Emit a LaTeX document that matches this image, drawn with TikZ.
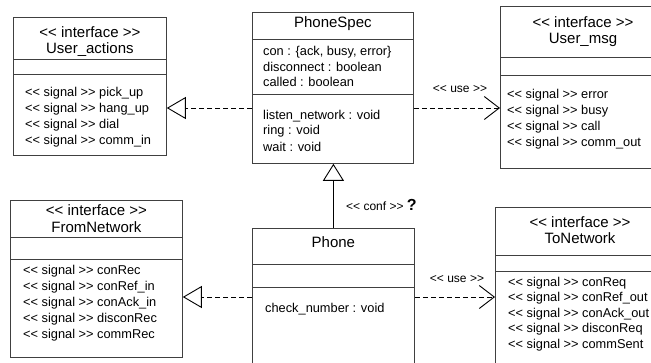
\documentclass[tikz,border=0pt]{standalone}
\usepackage{fontspec}
\setmainfont{Liberation Sans}
\usetikzlibrary{arrows.meta,calc}
\newcommand{\stereo}[1]{<{}< #1 >{}>}

\begin{document}
\begin{tikzpicture}[x=1pt,y=-1pt,
  umlbox/.style={draw=black!75,line width=0.8pt,inner sep=0pt,anchor=north west},
  title/.style={font=\fontsize{15}{18}\selectfont,inner sep=0pt},
  member/.style={font=\fontsize{12.8}{15}\selectfont,inner sep=0pt,anchor=west},
  tag/.style={font=\fontsize{12}{14}\selectfont,inner sep=0pt},
  realize/.style={dash pattern=on 5pt off 3pt,line width=0.9pt,
    -{Triangle[open,length=19pt,width=22pt,line width=0.9pt]}},
  conform/.style={line width=0.9pt,
    -{Triangle[open,length=17pt,width=21pt,line width=0.9pt]}},
  usedep/.style={dash pattern=on 5pt off 3pt,line width=0.9pt,
    -{Straight Barb[length=15pt,width=23pt,line width=0.9pt]}}]
    \useasboundingbox (0,0) rectangle (651,362);

    % boxes
    \node[umlbox,minimum width=153pt,minimum height=138pt] (useractions) at (13,17) {};
    \node[umlbox,minimum width=161pt,minimum height=151pt] (phonespec) at (252,12) {};
    \node[umlbox,minimum width=165pt,minimum height=162pt] (usermsg) at (500,6) {};
    \node[umlbox,minimum width=172pt,minimum height=157pt] (fromnet) at (10,200) {};
    \node[umlbox,minimum width=162pt,minimum height=150pt] (phone) at (252,228) {};
    \node[umlbox,minimum width=170pt,minimum height=170pt] (tonet) at (495,207) {};

    % compartments
    \foreach \bx/\ya/\yb in {useractions/59/74, phonespec/39/94, usermsg/57/75,
                             fromnet/237/259, phone/264/287, tonet/255/271}
      \draw[draw=black!75,line width=0.8pt] (\bx.west |- 0,\ya) -- (\bx.east |- 0,\ya)
                                            (\bx.west |- 0,\yb) -- (\bx.east |- 0,\yb);

    % User_actions
    \node[title] at (useractions.north |- 0,32) {\stereo{interface}};
    \node[title] at (useractions.north |- 0,50) {User\_actions};
    \foreach \sig [count=\i from 0] in {pick\_up,hang\_up,dial,comm\_in}
      \node[member] at (25,93+16*\i) {\stereo{signal} \sig};

    % PhoneSpec
    \node[title] at (phonespec.north |- 0,24) {PhoneSpec};
    \node[member] at (263,52) {con : \{ack, busy, error\}};
    \node[member] at (263,67) {disconnect : boolean};
    \node[member] at (263,82) {called : boolean};
    \node[member] at (263,116) {listen\_network : void};
    \node[member] at (263,131) {ring : void};
    \node[member] at (263,147) {wait : void};

    % User_msg
    \node[title] at (583,22) {\stereo{interface}};
    \node[title] at (583,40) {User\_msg};
    \foreach \sig [count=\i from 0] in {error,busy,call,comm\_out}
      \node[member] at (507,95+16*\i) {\stereo{signal} \sig};

    % FromNetwork
    \node[title] at (fromnet.north |- 0,210) {\stereo{interface}};
    \node[title] at (fromnet.north |- 0,227) {FromNetwork};
    \foreach \sig [count=\i from 0] in {conRec,conRef\_in,conAck\_in,disconRec,commRec}
      \node[member] at (23,271+16*\i) {\stereo{signal} \sig};

    % Phone
    \node[title] at (phone.north |- 0,242) {Phone};
    \node[member] at (265,309) {check\_number : void};

    % ToNetwork
    \node[title] at (580,222) {\stereo{interface}};
    \node[title] at (580,238) {ToNetwork};
    \foreach \sig [count=\i from 0] in {conReq,conRef\_out,conAck\_out,disconReq,commSent}
      \node[member] at (508,283+15.5*\i) {\stereo{signal} \sig};

    % relations
    \draw[realize] (phonespec.west |- 0,108) -- (useractions.east |- 0,108);
    \draw[usedep] (phonespec.east |- 0,108) -- (usermsg.west |- 0,108);
    \node[tag] (usetop) at (460,89) {\stereo{use}};
    \draw[conform] (phone.north) -- (phone.north |- phonespec.south);
    \node[tag,anchor=west] (conf) at (346,205) {\stereo{conf} {\fontsize{16}{18}\selectfont\bfseries ?}};
    \draw[realize] (phone.west |- 0,297) -- (fromnet.east |- 0,297);
    \draw[usedep] (phone.east |- 0,297) -- (tonet.west |- 0,297);
    \node[tag] (usebot) at (457,279) {\stereo{use}};
\end{tikzpicture}
\end{document}
